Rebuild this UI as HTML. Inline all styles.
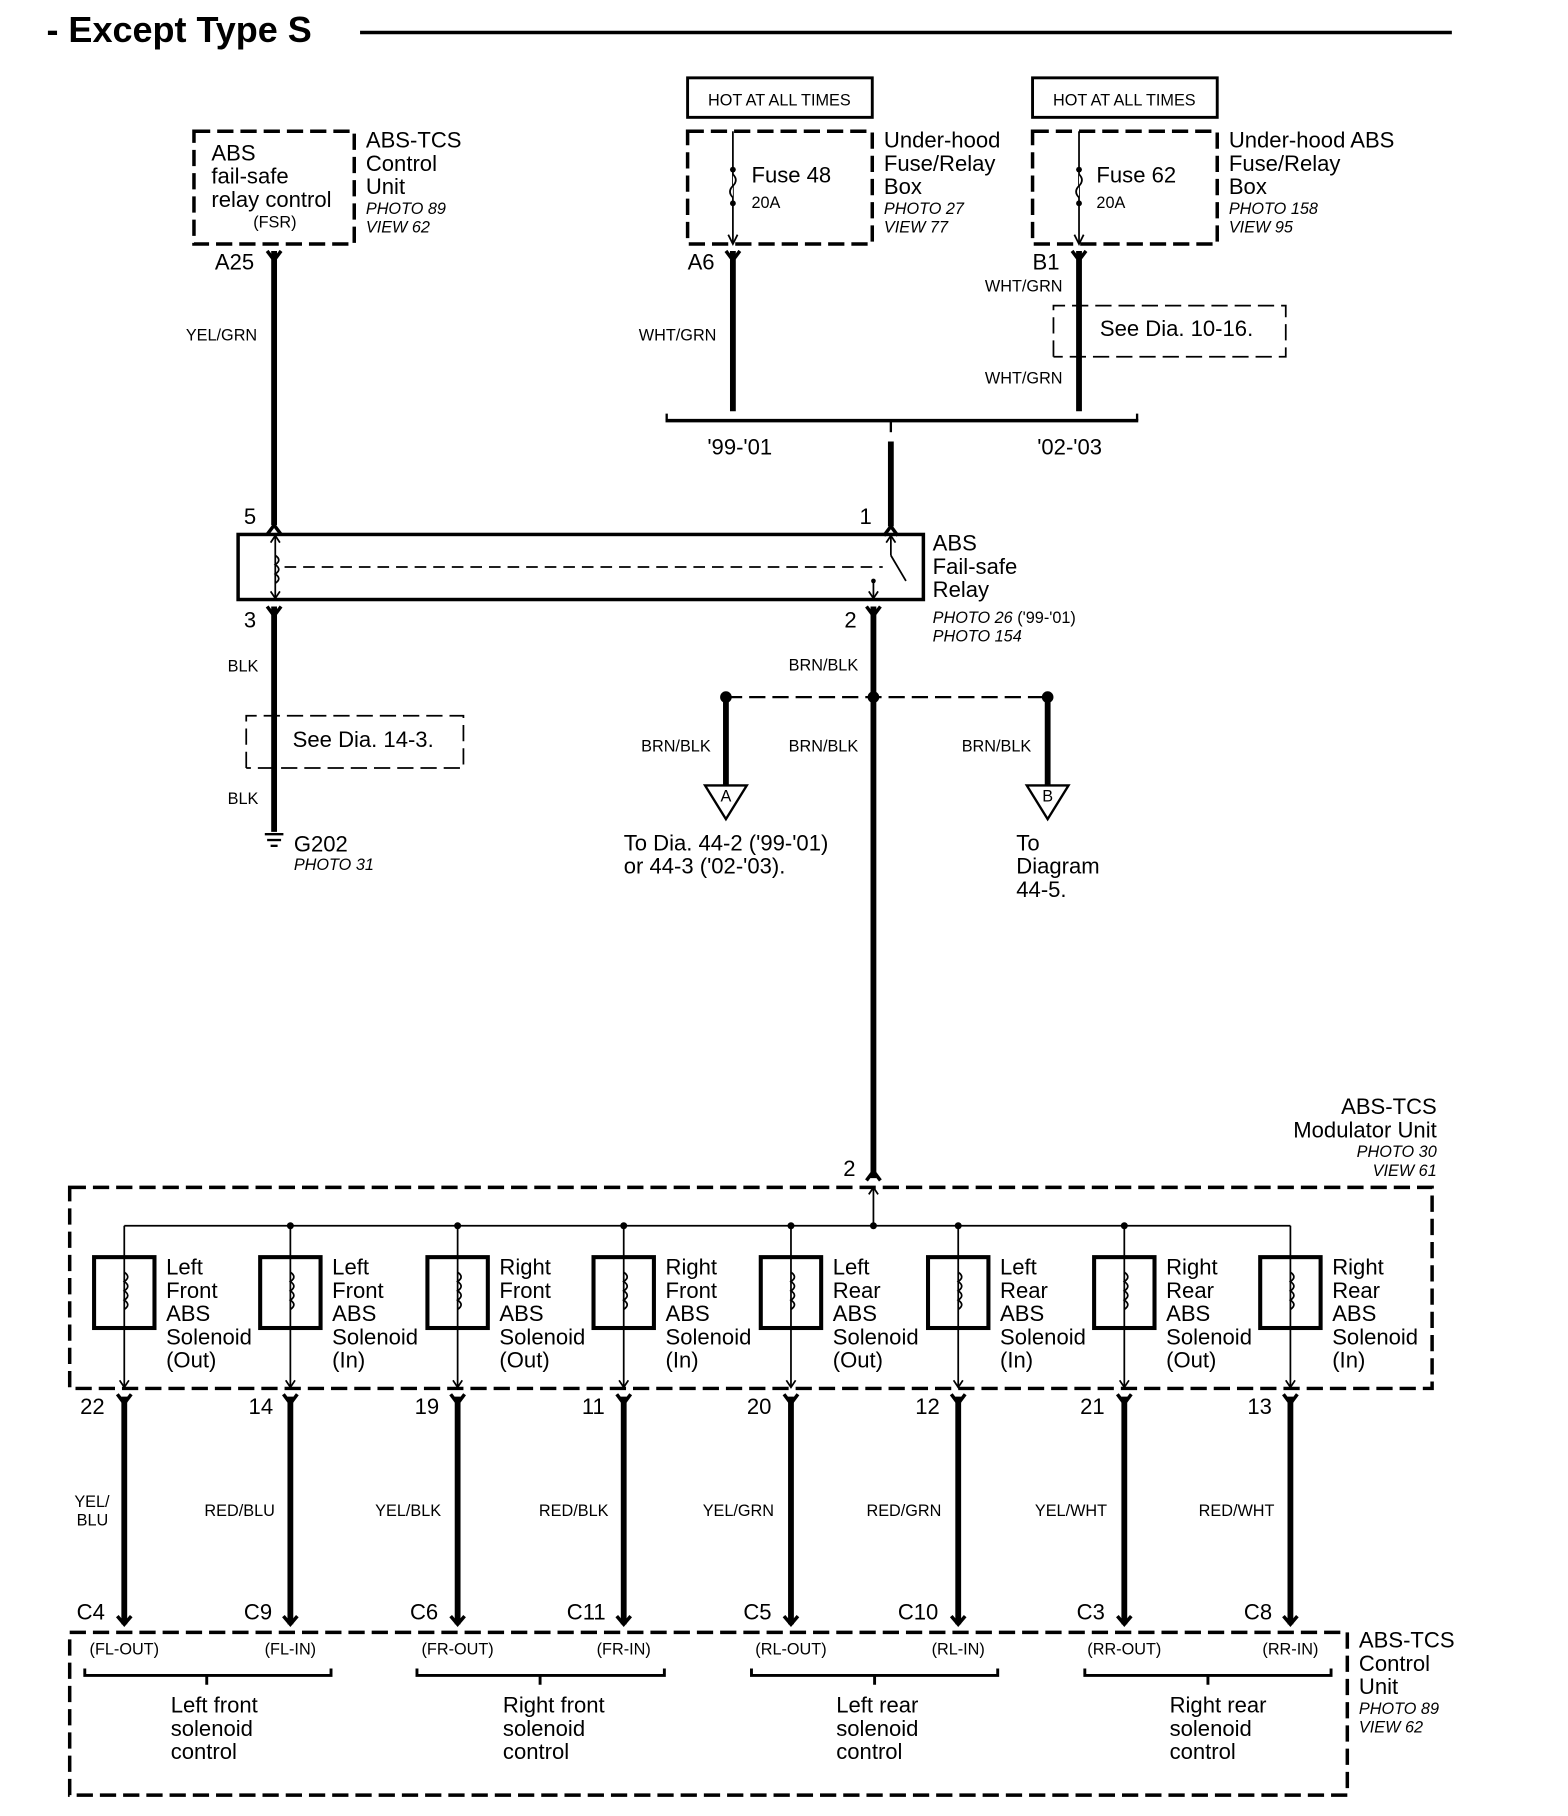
<!DOCTYPE html>
<html><head><meta charset="utf-8"><style>
html,body{margin:0;padding:0;background:#fff}
svg{display:block}
text{font-family:"Liberation Sans Narrow","Liberation Sans",sans-serif;fill:#000}
.t{font-size:19px}
.s{font-size:14px}
.i{font-size:14px;font-style:italic}
.w{stroke:#000;stroke-width:5;fill:none}
.n{stroke:#000;stroke-width:1.5;fill:none}
.d{stroke:#000;stroke-width:3;fill:none;stroke-dasharray:14 6}
.dt{stroke:#000;stroke-width:1.5;fill:none;stroke-dasharray:14 6}
</style></head><body>
<svg width="1568" height="1816" viewBox="0 0 1350 1563" preserveAspectRatio="none">
<defs>
<g id="yc"><path d="M-6,-8 L0,0 L6,-8" stroke="#000" stroke-width="3" fill="none"/></g>
<g id="uc"><path d="M-6,8 L0,0 L6,8" stroke="#000" stroke-width="3" fill="none"/></g>
<g id="sol"><rect x="-26" y="1082" width="52" height="61" stroke="#000" stroke-width="3.5" fill="#fff"/>
<line x1="0" y1="1055" x2="0" y2="1194" class="n"/>
<path d="M0,1095 q6,4 0,8 q6,4 0,8 q6,4 0,8 q6,4 0,8" class="n" fill="#fff"/>
<path d="M-4,1188 L0,1194 L4,1188" class="n"/>
<line x1="0" y1="1202" x2="0" y2="1398" class="w"/>
<path d="M-6,1200 L0,1208 L6,1200" stroke="#000" stroke-width="3" fill="none"/>
<path d="M-6,1391 L0,1398 L6,1391" stroke="#000" stroke-width="3" fill="none"/>
</g>
</defs>
<text x="40" y="36" style="font-size:31px;font-weight:bold;font-family:'Liberation Sans',sans-serif">- Except Type S</text>
<line x1="310" y1="28" x2="1250" y2="28" stroke="#000" stroke-width="3"/>

<rect x="167" y="113" width="138" height="97" class="d"/>
<text x="182" y="138" class="t">ABS</text><text x="182" y="158" class="t">fail-safe</text><text x="182" y="178" class="t">relay control</text>
<text x="218" y="196" class="s">(FSR)</text>
<text x="315" y="127" class="t">ABS-TCS</text><text x="315" y="147" class="t">Control</text><text x="315" y="167" class="t">Unit</text>
<text x="315" y="184" class="i">PHOTO 89</text><text x="315" y="200" class="i">VIEW 62</text>
<line x1="236" y1="216" x2="236" y2="452" class="w"/><use href="#yc" x="236" y="224"/>
<text x="185" y="232" class="t">A25</text>
<text x="160" y="293" class="s">YEL/GRN</text>

<rect x="592" y="67" width="159" height="34" stroke="#000" stroke-width="2.5" fill="none"/>
<text x="671" y="91" class="s" text-anchor="middle">HOT AT ALL TIMES</text>
<rect x="889" y="67" width="159" height="34" stroke="#000" stroke-width="2.5" fill="none"/>
<text x="968" y="91" class="s" text-anchor="middle">HOT AT ALL TIMES</text>

<rect x="592" y="113" width="159" height="97" class="d"/>
<line x1="631" y1="113" x2="631" y2="210" class="n"/>
<path d="M627,202 L631,210 L635,202" class="n"/>
<circle cx="631" cy="146" r="2.5"/><circle cx="631" cy="175" r="2.5"/>
<path d="M631,150 q5,5 0,10 q-5,5 0,10" stroke="#000" stroke-width="1.5" fill="#fff"/>
<text x="647" y="157" class="t">Fuse 48</text><text x="647" y="179" class="s">20A</text>
<text x="761" y="127" class="t">Under-hood</text><text x="761" y="147" class="t">Fuse/Relay</text><text x="761" y="167" class="t">Box</text>
<text x="761" y="184" class="i">PHOTO 27</text><text x="761" y="200" class="i">VIEW 77</text>
<line x1="631" y1="216" x2="631" y2="354" class="w"/><use href="#yc" x="631" y="224"/>
<text x="592" y="232" class="t">A6</text>
<text x="550" y="293" class="s">WHT/GRN</text>

<rect x="889" y="113" width="159" height="97" class="d"/>
<line x1="929" y1="113" x2="929" y2="210" class="n"/>
<path d="M925,202 L929,210 L933,202" class="n"/>
<circle cx="929" cy="146" r="2.5"/><circle cx="929" cy="175" r="2.5"/>
<path d="M929,150 q5,5 0,10 q-5,5 0,10" stroke="#000" stroke-width="1.5" fill="#fff"/>
<text x="944" y="157" class="t">Fuse 62</text><text x="944" y="179" class="s">20A</text>
<text x="1058" y="127" class="t">Under-hood ABS</text><text x="1058" y="147" class="t">Fuse/Relay</text><text x="1058" y="167" class="t">Box</text>
<text x="1058" y="184" class="i">PHOTO 158</text><text x="1058" y="200" class="i">VIEW 95</text>
<line x1="929" y1="216" x2="929" y2="354" class="w"/><use href="#yc" x="929" y="224"/>
<text x="889" y="232" class="t">B1</text>
<text x="848" y="251" class="s">WHT/GRN</text>
<path d="M907,307 L907,263 L1107,263 L1107,307 L907,307" class="dt"/>
<text x="947" y="289" class="t">See Dia. 10-16.</text>
<text x="848" y="330" class="s">WHT/GRN</text>

<line x1="573" y1="362" x2="980" y2="362" stroke="#000" stroke-width="3"/>
<line x1="574" y1="356" x2="574" y2="362" stroke="#000" stroke-width="2"/>
<line x1="979" y1="356" x2="979" y2="362" stroke="#000" stroke-width="2"/>
<text x="609" y="391" class="t">'99-'01</text><text x="893" y="391" class="t">'02-'03</text>
<line x1="767" y1="380" x2="767" y2="453" class="w"/>
<line x1="767" y1="362" x2="767" y2="372" stroke="#000" stroke-width="2"/>

<rect x="205" y="460" width="590" height="56" stroke="#000" stroke-width="3" fill="none"/>
<line x1="237" y1="460" x2="237" y2="516" class="n"/>
<path d="M233,467 L237,461 L241,467 M233,509 L237,515 L241,509" class="n"/>
<path d="M237,478 q6,4 0,8 q6,4 0,8 q6,4 0,8" class="n" fill="#fff"/>
<line x1="245" y1="488" x2="760" y2="488" class="dt" style="stroke-dasharray:10 6"/>
<line x1="767" y1="462" x2="767" y2="478" class="n"/>
<path d="M763,467 L767,461 L771,467" class="n"/>
<line x1="767" y1="478" x2="780" y2="500" class="n"/>
<line x1="752" y1="500" x2="752" y2="516" class="n"/>
<path d="M748,509 L752,515 L756,509" class="n"/>
<circle cx="752" cy="500" r="2"/>
<text x="210" y="451" class="t">5</text><text x="740" y="451" class="t">1</text>
<text x="210" y="540" class="t">3</text><text x="727" y="540" class="t">2</text>
<use href="#uc" x="236" y="452"/><use href="#uc" x="767" y="453"/>
<text x="803" y="474" class="t">ABS</text><text x="803" y="494" class="t">Fail-safe</text><text x="803" y="514" class="t">Relay</text>
<text x="803" y="536" class="i">PHOTO 26 <tspan font-style="normal">('99-'01)</tspan></text><text x="803" y="552" class="i">PHOTO 154</text>

<line x1="236" y1="522" x2="236" y2="716" class="w"/><use href="#yc" x="236" y="530"/><use href="#yc" x="752" y="530"/>
<text x="196" y="578" class="s">BLK</text>
<path d="M212,661 L212,616 L399,616 L399,661 L212,661" class="dt"/>
<text x="252" y="643" class="t">See Dia.  14-3.</text>
<text x="196" y="692" class="s">BLK</text>
<line x1="228" y1="718" x2="244" y2="718" stroke="#000" stroke-width="2"/>
<line x1="230" y1="723" x2="242" y2="723" stroke="#000" stroke-width="2"/>
<line x1="233" y1="728" x2="239" y2="728" stroke="#000" stroke-width="2"/>
<text x="253" y="733" class="t">G202</text><text x="253" y="749" class="i">PHOTO 31</text>

<line x1="752" y1="522" x2="752" y2="1014" class="w"/>
<text x="679" y="577" class="s">BRN/BLK</text>
<line x1="625" y1="600" x2="902" y2="600" class="dt" style="stroke-width:2"/>
<circle cx="625" cy="600" r="5"/><circle cx="752" cy="600" r="5"/><circle cx="902" cy="600" r="5"/>
<line x1="625" y1="600" x2="625" y2="676" class="w"/>
<line x1="902" y1="600" x2="902" y2="676" class="w"/>
<path d="M607,676 L643,676 L625,705 Z" stroke="#000" stroke-width="2" fill="#fff"/>
<text x="625" y="690" class="s" text-anchor="middle">A</text>
<path d="M884,676 L920,676 L902,705 Z" stroke="#000" stroke-width="2" fill="#fff"/>
<text x="902" y="690" class="s" text-anchor="middle">B</text>
<text x="552" y="647" class="s">BRN/BLK</text><text x="679" y="647" class="s">BRN/BLK</text><text x="828" y="647" class="s">BRN/BLK</text>
<text x="537" y="732" class="t">To Dia. 44-2 ('99-'01)</text><text x="537" y="752" class="t">or 44-3 ('02-'03).</text>
<text x="875" y="732" class="t">To</text><text x="875" y="752" class="t">Diagram</text><text x="875" y="772" class="t">44-5.</text>

<text x="1237" y="959" class="t" text-anchor="end">ABS-TCS</text>
<text x="1237" y="979" class="t" text-anchor="end">Modulator Unit</text>
<text x="1237" y="996" class="i" text-anchor="end">PHOTO 30</text>
<text x="1237" y="1012" class="i" text-anchor="end">VIEW 61</text>
<text x="726" y="1012" class="t">2</text>
<use href="#uc" x="752" y="1008"/>
<rect x="60" y="1022" width="1173" height="173" class="d"/>
<line x1="107" y1="1055" x2="1111" y2="1055" class="n"/>
<line x1="752" y1="1022" x2="752" y2="1055" class="n"/>
<path d="M748,1028 L752,1022 L756,1028" class="n"/>
<use href="#sol" x="107"/><use href="#sol" x="250"/><use href="#sol" x="394"/><use href="#sol" x="537"/>
<use href="#sol" x="681"/><use href="#sol" x="825"/><use href="#sol" x="968"/><use href="#sol" x="1111"/>
<circle cx="250" cy="1055" r="3"/><circle cx="394" cy="1055" r="3"/><circle cx="537" cy="1055" r="3"/><circle cx="681" cy="1055" r="3"/><circle cx="825" cy="1055" r="3"/><circle cx="968" cy="1055" r="3"/><circle cx="752" cy="1055" r="3"/>
<text x="143" y="1097" class="t">Left</text><text x="143" y="1117" class="t">Front</text><text x="143" y="1137" class="t">ABS</text><text x="143" y="1157" class="t">Solenoid</text><text x="143" y="1177" class="t">(Out)</text>
<text x="286" y="1097" class="t">Left</text><text x="286" y="1117" class="t">Front</text><text x="286" y="1137" class="t">ABS</text><text x="286" y="1157" class="t">Solenoid</text><text x="286" y="1177" class="t">(In)</text>
<text x="430" y="1097" class="t">Right</text><text x="430" y="1117" class="t">Front</text><text x="430" y="1137" class="t">ABS</text><text x="430" y="1157" class="t">Solenoid</text><text x="430" y="1177" class="t">(Out)</text>
<text x="573" y="1097" class="t">Right</text><text x="573" y="1117" class="t">Front</text><text x="573" y="1137" class="t">ABS</text><text x="573" y="1157" class="t">Solenoid</text><text x="573" y="1177" class="t">(In)</text>
<text x="717" y="1097" class="t">Left</text><text x="717" y="1117" class="t">Rear</text><text x="717" y="1137" class="t">ABS</text><text x="717" y="1157" class="t">Solenoid</text><text x="717" y="1177" class="t">(Out)</text>
<text x="861" y="1097" class="t">Left</text><text x="861" y="1117" class="t">Rear</text><text x="861" y="1137" class="t">ABS</text><text x="861" y="1157" class="t">Solenoid</text><text x="861" y="1177" class="t">(In)</text>
<text x="1004" y="1097" class="t">Right</text><text x="1004" y="1117" class="t">Rear</text><text x="1004" y="1137" class="t">ABS</text><text x="1004" y="1157" class="t">Solenoid</text><text x="1004" y="1177" class="t">(Out)</text>
<text x="1147" y="1097" class="t">Right</text><text x="1147" y="1117" class="t">Rear</text><text x="1147" y="1137" class="t">ABS</text><text x="1147" y="1157" class="t">Solenoid</text><text x="1147" y="1177" class="t">(In)</text>
<text x="69" y="1217" class="t">22</text><text x="214" y="1217" class="t">14</text><text x="357" y="1217" class="t">19</text><text x="501" y="1217" class="t">11</text>
<text x="643" y="1217" class="t">20</text><text x="788" y="1217" class="t">12</text><text x="930" y="1217" class="t">21</text><text x="1074" y="1217" class="t">13</text>
<text x="64" y="1297" class="s">YEL/</text><text x="66" y="1313" class="s">BLU</text>
<text x="176" y="1305" class="s">RED/BLU</text><text x="323" y="1305" class="s">YEL/BLK</text><text x="464" y="1305" class="s">RED/BLK</text>
<text x="605" y="1305" class="s">YEL/GRN</text><text x="746" y="1305" class="s">RED/GRN</text><text x="891" y="1305" class="s">YEL/WHT</text><text x="1032" y="1305" class="s">RED/WHT</text>
<text x="66" y="1394" class="t">C4</text><text x="210" y="1394" class="t">C9</text><text x="353" y="1394" class="t">C6</text><text x="488" y="1394" class="t">C11</text>
<text x="640" y="1394" class="t">C5</text><text x="773" y="1394" class="t">C10</text><text x="927" y="1394" class="t">C3</text><text x="1071" y="1394" class="t">C8</text>

<rect x="60" y="1405" width="1100" height="140" class="d"/>
<text x="107" y="1424" class="s" text-anchor="middle">(FL-OUT)</text><text x="250" y="1424" class="s" text-anchor="middle">(FL-IN)</text>
<text x="394" y="1424" class="s" text-anchor="middle">(FR-OUT)</text><text x="537" y="1424" class="s" text-anchor="middle">(FR-IN)</text>
<text x="681" y="1424" class="s" text-anchor="middle">(RL-OUT)</text><text x="825" y="1424" class="s" text-anchor="middle">(RL-IN)</text>
<text x="968" y="1424" class="s" text-anchor="middle">(RR-OUT)</text><text x="1111" y="1424" class="s" text-anchor="middle">(RR-IN)</text>
<path d="M73,1436 V1442 H285 V1436 M178,1442 V1450" stroke="#000" stroke-width="2.5" fill="none"/>
<path d="M359,1436 V1442 H572 V1436 M465,1442 V1450" stroke="#000" stroke-width="2.5" fill="none"/>
<path d="M647,1436 V1442 H859 V1436 M753,1442 V1450" stroke="#000" stroke-width="2.5" fill="none"/>
<path d="M934,1436 V1442 H1146 V1436 M1040,1442 V1450" stroke="#000" stroke-width="2.5" fill="none"/>
<text x="147" y="1474" class="t">Left front</text><text x="147" y="1494" class="t">solenoid</text><text x="147" y="1514" class="t">control</text>
<text x="433" y="1474" class="t">Right front</text><text x="433" y="1494" class="t">solenoid</text><text x="433" y="1514" class="t">control</text>
<text x="720" y="1474" class="t">Left rear</text><text x="720" y="1494" class="t">solenoid</text><text x="720" y="1514" class="t">control</text>
<text x="1007" y="1474" class="t">Right rear</text><text x="1007" y="1494" class="t">solenoid</text><text x="1007" y="1514" class="t">control</text>
<text x="1170" y="1418" class="t">ABS-TCS</text><text x="1170" y="1438" class="t">Control</text><text x="1170" y="1458" class="t">Unit</text>
<text x="1170" y="1475" class="i">PHOTO 89</text><text x="1170" y="1491" class="i">VIEW 62</text>
</svg>
</body></html>
